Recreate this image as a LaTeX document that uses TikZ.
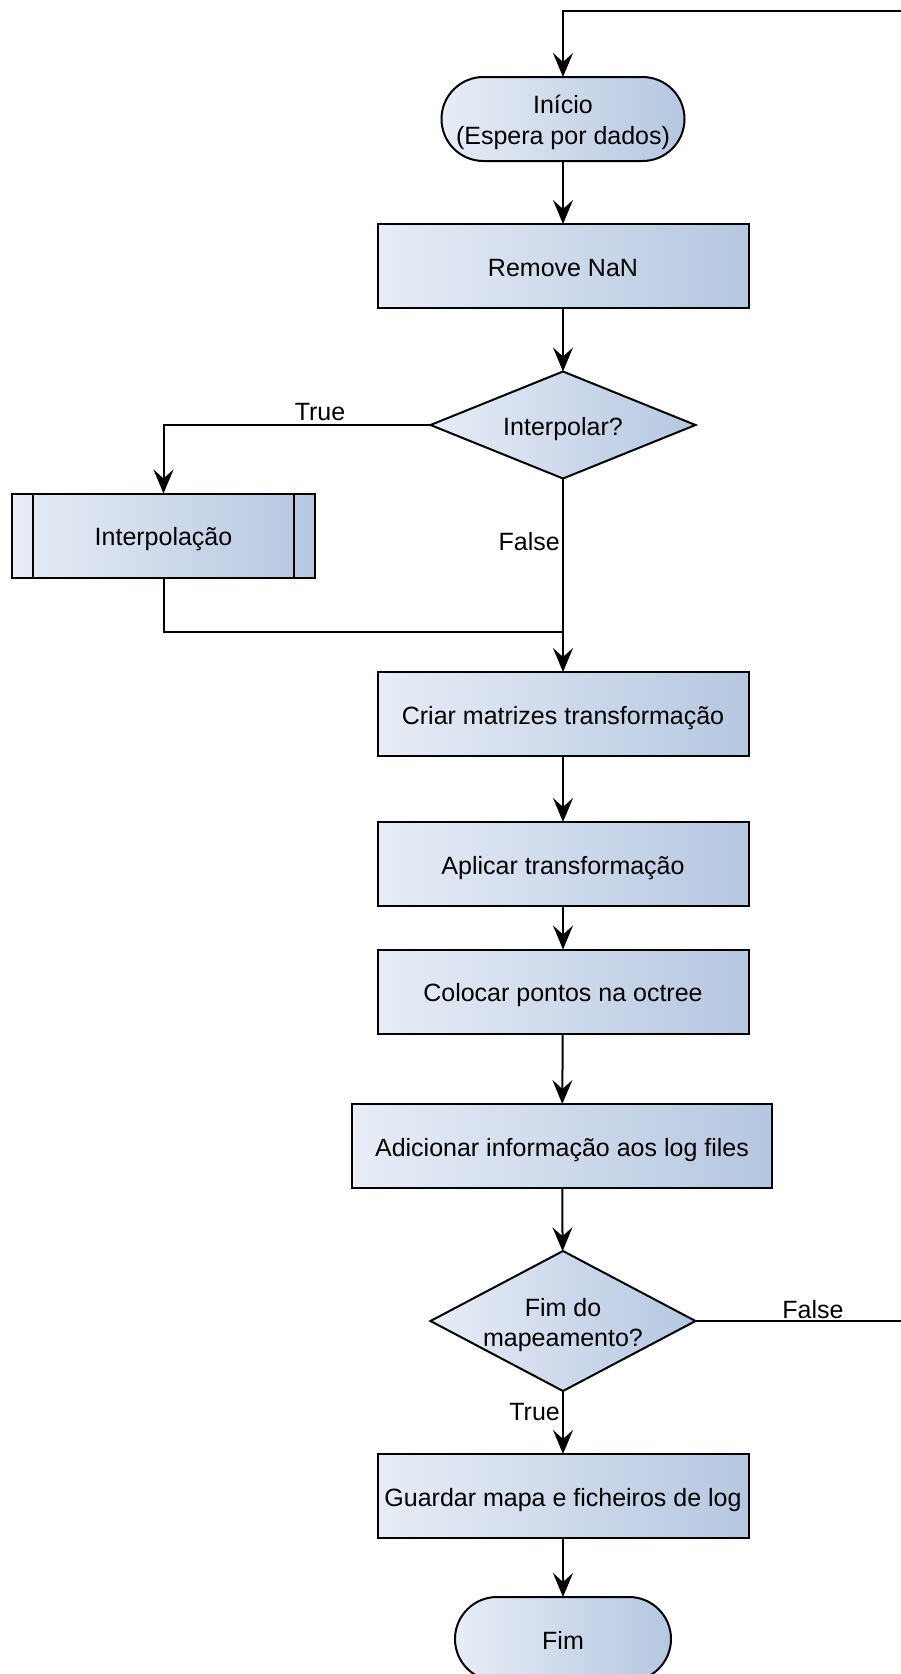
\documentclass[tikz,border=0pt]{standalone}
\usepackage{fontspec}
\setmainfont{Liberation Sans}
\usetikzlibrary{shapes.geometric,arrows.meta}
\definecolor{fillL}{HTML}{E8EDF6}
\definecolor{fillR}{HTML}{B5C7E1}
\tikzset{
  base/.style={draw=black, line width=2pt, left color=fillL, right color=fillR,
    inner sep=0pt, outer sep=0pt, font=\fontsize{25}{30}\selectfont,
    text height=20pt, text depth=0pt},
  procbox/.style={base, rectangle, minimum width=371pt, minimum height=84pt},
  term/.style={base, rectangle, rounded corners=42pt, minimum height=84pt},
  dec/.style={base, diamond, minimum width=265pt},
  txt/.style={font=\fontsize{25}{30}\selectfont, inner sep=0pt},
  conn/.style={line width=2pt},
  arr/.style={conn, -{Stealth[length=24pt,width=20pt,inset=9pt]}},
}
\begin{document}
\begin{tikzpicture}[x=1pt,y=-1pt]
  \useasboundingbox (0,0) rectangle (900,1674);

  % main column of steps
  \node[term, minimum width=243pt] (start) at (563,119) {};
  \node[txt, anchor=base] (st1) at (563,113) {Início};
  \node[txt, anchor=base] (st2) at (563,144) {(Espera por dados)};
  \node[procbox] (rm) at (563,266) {Remove NaN};
  \node[dec, minimum height=107pt] (d1) at (563,425) {};
  \node[txt, anchor=base] (d1t) at (563,435) {Interpolar?};
  \node[procbox, minimum width=303pt] (ip) at (163.5,535.5) {Interpolação};
  \draw[line width=2pt] ([xshift=21pt]ip.north west) -- ([xshift=21pt]ip.south west);
  \draw[line width=2pt] ([xshift=-21pt]ip.north east) -- ([xshift=-21pt]ip.south east);
  \node[procbox] (crm) at (563,714) {Criar matrizes transformação};
  \node[procbox] (apl) at (563,864) {Aplicar transformação};
  \node[procbox] (col) at (563,991.5) {Colocar pontos na octree};
  \node[procbox, minimum width=420pt] (add) at (562,1146) {Adicionar informação aos log files};
  \node[dec, minimum height=140pt] (d2) at (563,1321) {};
  \node[txt, anchor=base] (d2a) at (563,1316) {Fim do};
  \node[txt, anchor=base] (d2b) at (563,1346) {mapeamento?};
  \node[procbox] (gua) at (563,1496) {Guardar mapa e ficheiros de log};
  \node[term, minimum width=216pt] (fim) at (563,1639) {Fim};

  % helper points for the routed connectors
  \coordinate (mg) at (563,632);
  \coordinate (rb) at (902,1321);
  \coordinate (rt) at (902,11);

  % connectors
  \draw[arr] (start) -- (rm);
  \draw[arr] (rm) -- (d1);
  \draw[arr] (d1.west) -| (ip.north);
  \draw[conn] (ip.south) |- (mg);
  \draw[arr] (d1.south) -- (crm.north);
  \draw[arr] (crm) -- (apl);
  \draw[arr] (apl) -- (col);
  \draw[arr] (col) -- (add);
  \draw[arr] (add) -- (d2);
  \draw[arr] (d2) -- (gua);
  \draw[arr] (gua) -- (fim);
  \draw[arr] (d2.east) -- (rb) -- (rt) -| (start.north);

  % branch labels
  \node[txt, anchor=base] (t1) at (320,420) {True};
  \node[txt, anchor=base east] (f1) at (560,550) {False};
  \node[txt, anchor=base] (f2) at (813,1318) {False};
  \node[txt, anchor=base east] (t2) at (560,1420) {True};
\end{tikzpicture}
\end{document}
